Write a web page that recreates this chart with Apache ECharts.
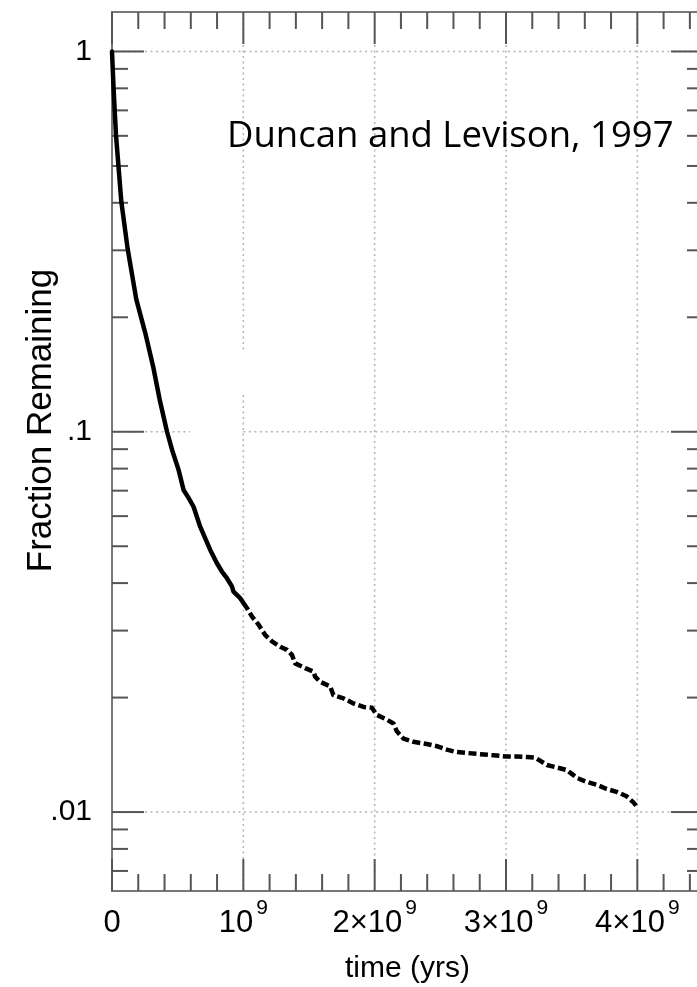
<!DOCTYPE html>
<html>
<head>
<meta charset="utf-8">
<script src="https://cdn.jsdelivr.net/npm/echarts@6/dist/echarts.min.js"></script>
<style>
  html, body { margin: 0; padding: 0; background: #fff; }
  #chart { width: 697px; height: 987px; }
</style>
</head>
<body>
<div id="chart"></div>
<script>
// Surviving fraction of the test particles versus time (time in units of 1e9 yr)
const timeGyr = [0, 0.012, 0.030, 0.071, 0.119, 0.185, 0.253, 0.314, 0.364, 0.419,
  0.457, 0.507, 0.545, 0.583, 0.621, 0.672, 0.748, 0.799, 0.837, 0.875,
  0.913, 0.925, 0.976, 1.002, 1.027, 1.065, 1.116, 1.167, 1.218, 1.281,
  1.332, 1.370, 1.395, 1.471, 1.534, 1.547, 1.585, 1.636, 1.661, 1.686,
  1.763, 1.839, 1.915, 1.979, 2.017, 2.093, 2.143, 2.169, 2.219, 2.295,
  2.397, 2.473, 2.549, 2.613, 2.702, 2.803, 2.904, 3.001, 3.082, 3.158,
  3.221, 3.259, 3.311, 3.387, 3.463, 3.501, 3.539, 3.615, 3.691, 3.767,
  3.843, 3.919, 3.970, 4.000];
const fractionRemaining = [1, 0.80, 0.605, 0.403, 0.303, 0.223, 0.182, 0.148, 0.121, 0.100,
  0.0897, 0.0794, 0.0703, 0.0670, 0.0635, 0.0562, 0.0489, 0.0451, 0.0429, 0.0412,
  0.0392, 0.0380, 0.0365, 0.0354, 0.0344, 0.0327, 0.0311, 0.0292, 0.0281, 0.0272,
  0.0267, 0.0259, 0.0246, 0.0239, 0.0234, 0.0227, 0.0220, 0.0216, 0.0214, 0.0203,
  0.0199, 0.0193, 0.0189, 0.0188, 0.0180, 0.0175, 0.0171, 0.0163, 0.0156, 0.0153,
  0.0151, 0.0149, 0.0146, 0.0144, 0.0143, 0.0142, 0.0141, 0.0140, 0.0140, 0.01396,
  0.0139, 0.01365, 0.0133, 0.0131, 0.0129, 0.0126, 0.0123, 0.0120, 0.0118, 0.0115,
  0.0113, 0.0110, 0.0106, 0.0103];

// Tick positions
const xLabelValues = [0, 1, 2, 3, 4];
const xMajorTicks = [0, 1, 2, 3, 4];
const xMinorTicks = [0.2, 0.4, 0.6, 0.8, 1.2, 1.4, 1.6, 1.8, 2.2, 2.4, 2.6, 2.8,
  3.2, 3.4, 3.6, 3.8, 4.2, 4.4];
const yLabelValues = [0.01, 0.1, 1];
const yMajorTicks = [0.01, 0.1, 1];
const yMinorTicks = [0.007, 0.008, 0.009, 0.02, 0.03, 0.04, 0.05, 0.06, 0.07, 0.08, 0.09,
  0.2, 0.3, 0.4, 0.5, 0.6, 0.7, 0.8, 0.9];

const annotation = 'Duncan and Levison, 1997';
const xTitle = 'time (yrs)';
const yTitle = 'Fraction Remaining';

// Axis ranges
const X_MIN = 0, X_MAX = 4.5;
const Y_MIN = 0.0062, Y_MAX = 1.27;
// The curve switches from solid to dashed here (Gyr)
const DASH_FROM = 1.0;

const FONT = '"Liberation Sans", Arial, Helvetica, sans-serif';
const FRAME = '#777777';
const TICK = '#555555';
const GRID = '#b4b4b4';

const points = timeGyr.map((t, i) => [t, fractionRemaining[i]]);
const solidPart = points.filter(p => p[0] <= DASH_FROM + 0.01);
const dashedPart = points.filter(p => p[0] >= DASH_FROM);

// Dotted reference lines, given as segments in data space
const gridSegments = [
  [X_MIN, 1, X_MAX, 1],
  [X_MIN, 0.1, 0.595, 0.1],
  [1.0, 0.1, X_MAX, 0.1],
  [X_MIN, 0.01, X_MAX, 0.01],
  [1, Y_MAX, 1, 0.164],
  [1, 0.125, 1, Y_MIN],
  [2, Y_MAX, 2, Y_MIN],
  [3, Y_MAX, 3, Y_MIN],
  [4, Y_MAX, 4, Y_MIN]
];

const xTickData = xMajorTicks.map(v => [v, 1, 1]).concat(xMinorTicks.map(v => [v, 1, 0]));
const yTickData = yMajorTicks.map(v => [X_MIN, v, 1]).concat(yMinorTicks.map(v => [X_MIN, v, 0]));

function xLabel(v) {
  if (v === 0) return '{b|0}';
  if (v === 1) return '{b|10}{s|9}';
  return '{b|' + v + '\u00d710}{s|9}';
}
function yLabel(v) {
  return v === 1 ? '1' : String(v).replace(/^0/, '');
}

const tickStyle = { stroke: TICK, lineWidth: 2 };

const chart = echarts.init(document.getElementById('chart'), null, { renderer: 'canvas' });
chart.setOption({
  animation: false,
  backgroundColor: '#ffffff',
  grid: { left: 112, top: 12, width: 591, height: 879, outerBoundsMode: 'none' },
  xAxis: [{
    type: 'value', min: X_MIN, max: X_MAX, position: 'bottom',
    axisLine: { show: true, lineStyle: { color: FRAME, width: 2 } },
    axisTick: { show: false },
    splitLine: { show: false },
    axisLabel: {
      customValues: xLabelValues, margin: 7, formatter: xLabel,
      rich: {
        b: { fontSize: 31, fontFamily: FONT, color: '#000', padding: [10, 0, 0, 0] },
        s: { fontSize: 21, fontFamily: FONT, color: '#000', verticalAlign: 'top', padding: [0, 0, 0, 3] }
      }
    },
    name: xTitle, nameLocation: 'middle', nameGap: 63, nameMoveOverlap: false,
    nameTextStyle: { fontSize: 30, fontFamily: FONT, color: '#000' }
  }, {
    type: 'value', min: X_MIN, max: X_MAX, position: 'top',
    axisLine: { show: true, lineStyle: { color: FRAME, width: 2 } },
    axisTick: { show: false }, axisLabel: { show: false }, splitLine: { show: false }
  }],
  yAxis: [{
    type: 'log', logBase: 10, min: Y_MIN, max: Y_MAX, position: 'left',
    axisLine: { show: true, lineStyle: { color: FRAME, width: 2 } },
    axisTick: { show: false },
    splitLine: { show: false },
    axisLabel: {
      customValues: yLabelValues, margin: 20, formatter: yLabel,
      fontSize: 30, fontFamily: FONT, color: '#000'
    },
    name: yTitle, nameLocation: 'middle', nameGap: 53, nameMoveOverlap: false,
    nameTextStyle: {
      fontSize: 35, fontFamily: FONT, color: '#000',
      padding: [0, 0, 0, 62]
    }
  }, {
    type: 'log', logBase: 10, min: Y_MIN, max: Y_MAX, position: 'right',
    axisLine: { show: true, lineStyle: { color: FRAME, width: 2 } },
    axisTick: { show: false }, axisLabel: { show: false }, splitLine: { show: false }
  }],
  graphic: [{
    type: 'text', left: 227, top: 118, z: 10,
    style: { text: annotation, font: '36.5px "Open Sans", sans-serif', fill: '#000' }
  }],
  series: [{
    type: 'custom', name: 'grid', silent: true, z: 1,
    data: gridSegments,
    encode: { x: [0, 2], y: [1, 3] },
    renderItem: function (params, api) {
      const p1 = api.coord([api.value(0), api.value(1)]);
      const p2 = api.coord([api.value(2), api.value(3)]);
      return {
        type: 'line',
        shape: { x1: p1[0], y1: p1[1], x2: p2[0], y2: p2[1] },
        style: { stroke: GRID, lineWidth: 1.5, lineDash: [2, 3.5] }
      };
    }
  }, {
    type: 'custom', name: 'xTicks', silent: true, z: 3,
    data: xTickData,
    encode: { x: 0, y: 1 },
    renderItem: function (params, api) {
      const v = api.value(0);
      const len = api.value(2) === 1 ? 32 : 17;
      const b = api.coord([v, Y_MIN]);
      const t = api.coord([v, Y_MAX]);
      return {
        type: 'group', children: [
          { type: 'line', shape: { x1: b[0], y1: b[1], x2: b[0], y2: b[1] - len }, style: tickStyle },
          { type: 'line', shape: { x1: t[0], y1: t[1], x2: t[0], y2: t[1] + len }, style: tickStyle }
        ]
      };
    }
  }, {
    type: 'custom', name: 'yTicks', silent: true, z: 3,
    data: yTickData,
    encode: { x: 0, y: 1 },
    renderItem: function (params, api) {
      const v = api.value(1);
      const len = api.value(2) === 1 ? 32 : 16;
      const l = api.coord([X_MIN, v]);
      const r = api.coord([X_MAX, v]);
      return {
        type: 'group', children: [
          { type: 'line', shape: { x1: l[0], y1: l[1], x2: l[0] + len, y2: l[1] }, style: tickStyle },
          { type: 'line', shape: { x1: r[0], y1: r[1], x2: r[0] - len, y2: r[1] }, style: tickStyle }
        ]
      };
    }
  }, {
    type: 'line', name: 'survivors', z: 5,
    data: solidPart, showSymbol: false, symbol: 'none', smooth: false,
    lineStyle: { color: '#000', width: 4.5, cap: 'round', join: 'round' }
  }, {
    type: 'line', name: 'survivors (late)', z: 5,
    data: dashedPart, showSymbol: false, symbol: 'none', smooth: false,
    lineStyle: { color: '#000', width: 4.5, type: [8, 3.5], cap: 'butt', join: 'round' }
  }]
});
</script>
</body>
</html>
